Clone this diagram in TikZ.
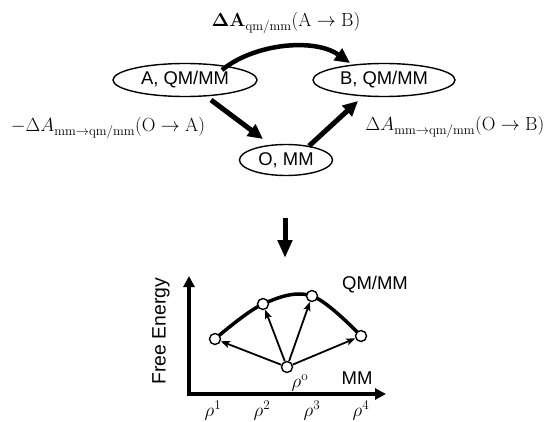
\documentclass[tikz,border=0pt]{standalone}
\usepackage[no-math]{fontspec}
\newfontfamily\hv{Liberation Sans}
\usetikzlibrary{arrows.meta,shapes.geometric}
\newcommand\mlab[1]{\scalebox{1.1}{$#1$}}
\tikzset{
  state/.style={ellipse, draw, line width=1.4pt, inner sep=0pt, minimum width=#1, minimum height=33pt, font=\hv\fontsize{18.4}{22}\selectfont},
  bigarrow/.style={line width=5pt, -{Triangle[length=15pt,width=14pt]}},
  thinarrow/.style={line width=1.8pt, -{Stealth[length=9pt,width=7pt,inset=2pt]}},
  axis/.style={line width=4.5pt, -{Triangle[length=11pt,width=11pt]}},
  mathlab/.style={font=\fontsize{17.28}{21}\selectfont, inner sep=0pt},
  sanslab/.style={font=\hv\fontsize{18.5}{22}\selectfont, inner sep=0pt},
  pt/.style={circle, draw, fill=white, line width=1.4pt, minimum size=11pt, inner sep=0pt},
}
\begin{document}
\begin{tikzpicture}[x=1pt,y=-1pt]
\useasboundingbox (0,0) rectangle (548,422);
% states
\node[state=144pt] (A) at (185,80) {A, QM/MM};
\node[state=142pt] (B) at (384,80) {B, QM/MM};
\node[state=93pt, minimum height=31pt] (O) at (286,160) {O, MM};
% labels
\node[mathlab] (lt) at (286,23) {\mlab{\mathbf{\Delta A}_{\mathrm{qm/mm}}(\mathrm{A}\rightarrow\mathrm{B})}};
\node[mathlab] (ll) at (108,128) {\mlab{-\Delta A_{\mathrm{mm}\rightarrow\mathrm{qm/mm}}(\mathrm{O}\rightarrow\mathrm{A})}};
\node[mathlab] (lr) at (455,127) {\mlab{\Delta A_{\mathrm{mm}\rightarrow\mathrm{qm/mm}}(\mathrm{O}\rightarrow\mathrm{B})}};
% arrows
\coordinate (t1) at (222,70);
\coordinate (t2) at (350,63);
\draw[bigarrow, line width=4.5pt] (t1) .. controls (255,43) and (315,38) .. (t2);
\coordinate (a1) at (211,100);
\coordinate (a2) at (263,139);
\draw[bigarrow] (a1) -- (a2);
\coordinate (b1) at (309,146);
\coordinate (b2) at (358,101);
\draw[bigarrow] (b1) -- (b2);
\coordinate (d1) at (285,218);
\coordinate (d2) at (285,258);
\draw[bigarrow, -{Triangle[length=18pt,width=14pt]}] (d1) -- (d2);
% plot
\coordinate (org) at (189,394);
\coordinate (ytop) at (189,276);
\coordinate (xend) at (386,394);
\draw[axis] ([xshift=-2.25pt]org) -- (xend);
\draw[axis] ([yshift=2.25pt]org) -- (ytop);
\node[sanslab, font=\hv\fontsize{19.4}{22}\selectfont, rotate=90] (fe) at (161,331) {Free Energy};
\draw[line width=3.5pt] plot[smooth, tension=0.6] coordinates {(215,339) (263,304) (312,296) (361,336)};
\node[pt] (p1) at (215,339) {};
\node[pt] (p2) at (263,304) {};
\node[pt] (p3) at (312,296) {};
\node[pt] (p4) at (361,336) {};
\node[pt] (p0) at (287,367) {};
\draw[thinarrow] (p0) -- (p1);
\draw[thinarrow] (p0) -- (p2);
\draw[thinarrow] (p0) -- (p3);
\draw[thinarrow] (p0) -- (p4);
\node[sanslab] (qm) at (375,285) {QM/MM};
\node[sanslab] (mm) at (357,378) {MM};
\node[mathlab] (r0) at (300,383) {\mlab{\rho^{\mathrm{o}}}};
\node[mathlab] (r1) at (213,411) {\mlab{\rho^{1}}};
\node[mathlab] (r2) at (262,411) {\mlab{\rho^{2}}};
\node[mathlab] (r3) at (312,411) {\mlab{\rho^{3}}};
\node[mathlab] (r4) at (361,411) {\mlab{\rho^{4}}};
\end{tikzpicture}
\end{document}
